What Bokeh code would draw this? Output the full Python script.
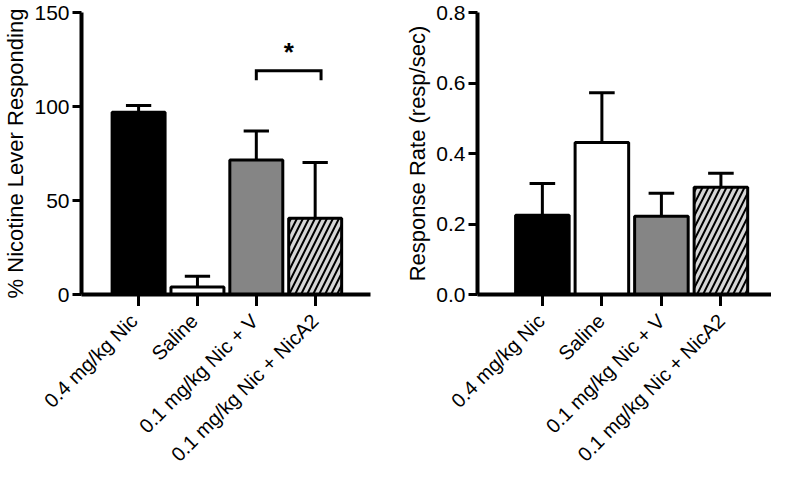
from bokeh.plotting import figure
from bokeh.models import FixedTicker, ColumnDataSource, Range1d
from bokeh.layouts import row, column
from bokeh.embed import file_html
from bokeh.resources import INLINE
from bokeh.core.properties import value
import math

categories = ["0.4 mg/kg Nic", "Saline", "0.1 mg/kg Nic + V", "0.1 mg/kg Nic + NicA2"]
pct_mean = [97, 4, 71.5, 40.5]
pct_sem = [3.5, 5.7, 15.5, 29.7]
rate_mean = [0.225, 0.431, 0.222, 0.304]
rate_sem = [0.09, 0.141, 0.065, 0.04]

pct_ticks = [0, 50, 100, 150]
pct_tick_labels = ["0", "50", "100", "150"]
rate_ticks = [0, 0.2, 0.4, 0.6, 0.8]
rate_tick_labels = ["0.0", "0.2", "0.4", "0.6", "0.8"]

bar_colors = ["#000000", "#ffffff", "#858585", "#d6d6d6"]
bar_hatch = [" ", " ", " ", "/"]

# significance bracket between groups 3 and 4
sig_x = [3, 4.1]
sig_y = 119
sig_drop = 114
sig_star_y = 129
sig_label = "*"

FONT = "Liberation Sans"
CAP = 0.43
TOTAL_H = 468
TOP_H = 306          # height of the bar-chart part
LAB_H = TOTAL_H - TOP_H  # strip holding the rotated category labels
TOP_B = 12
BOT_B = 12
TICK_OUT = 12
LABEL_GAP = 11       # px below the strip top where label centre line ends


def make(means, sems, ticks, tick_labels, ylabel, xr, yr, width, bl, br):
    xs = list(range(1, len(categories) + 1))
    p = figure(width=width, height=TOP_H, x_range=Range1d(*xr), y_range=Range1d(*yr),
               output_backend="svg", toolbar_location=None, tools="",
               min_border_top=TOP_B, min_border_right=br, min_border_left=bl,
               min_border_bottom=BOT_B)
    p.outline_line_color = None
    p.grid.visible = False
    upper = [m + s for m, s in zip(means, sems)]
    src = ColumnDataSource(dict(x=xs, top=means, upper=upper, color=bar_colors,
                                hatch=bar_hatch,
                                cl=[x - CAP / 2 for x in xs], cr=[x + CAP / 2 for x in xs]))
    p.vbar(x="x", top="top", bottom=0, width=0.9, fill_color="color", line_color="black",
           line_width=3, hatch_pattern="hatch", hatch_color="black", hatch_weight=2,
           hatch_scale=12, source=src)
    p.segment(x0="x", y0="top", x1="x", y1="upper", line_width=3, line_color="black", source=src)
    p.segment(x0="cl", y0="upper", x1="cr", y1="upper", line_width=3, line_color="black", source=src)

    p.xaxis.ticker = FixedTicker(ticks=xs)
    p.xaxis.major_label_overrides = {x: "" for x in xs}
    p.yaxis.ticker = FixedTicker(ticks=ticks)
    p.yaxis.major_label_overrides = {t: l for t, l in zip(ticks, tick_labels)}
    p.yaxis.axis_label = ylabel
    for ax in (p.xaxis[0], p.yaxis[0]):
        ax.axis_line_width = 4
        ax.axis_line_color = "black"
        ax.major_tick_line_width = 3
        ax.major_tick_line_color = "black"
        ax.major_tick_in = 0
        ax.minor_tick_in = 0
        ax.minor_tick_out = 0
        ax.major_label_text_font = FONT
        ax.major_label_text_font_size = "21px"
        ax.major_label_text_color = "black"
        ax.axis_label_text_font = FONT
        ax.axis_label_text_font_size = "22px"
        ax.axis_label_text_font_style = "normal"
        ax.axis_label_text_color = "black"
    p.xaxis.major_tick_out = TICK_OUT
    p.xaxis.major_label_standoff = 0
    p.xaxis.axis_label_standoff = 0
    p.xaxis.major_label_text_font_size = "1px"
    p.yaxis.major_tick_out = 9
    p.yaxis.major_label_standoff = 3
    p.yaxis.axis_label_standoff = 3

    # strip below with the category labels, sharing the same x scale
    fw = width - bl - br
    dpp = (xr[1] - xr[0]) / fw
    lab = figure(width=width, height=LAB_H,
                 x_range=Range1d(xr[0] - bl * dpp, xr[1] + br * dpp),
                 y_range=Range1d(-LAB_H, 0), x_axis_type=None, y_axis_type=None,
                 output_backend="svg", toolbar_location=None, tools="", min_border=0)
    lab.outline_line_color = None
    lab.grid.visible = False
    lsrc = ColumnDataSource(dict(x=xs, y=[-LABEL_GAP] * len(xs), name=categories))
    lab.text(x="x", y="y", text="name", source=lsrc, angle=math.pi / 4, x_offset=1,
             text_align="right", text_baseline="middle", text_font=value(FONT),
             text_font_size="20px", text_color="black")
    return p, lab


p1, l1 = make(pct_mean, pct_sem, pct_ticks, pct_tick_labels, "% Nicotine Lever Responding",
              (0.03, 4.94), (0, 150), 402, 74, 32)
p1.line(x=[sig_x[0], sig_x[0], sig_x[1], sig_x[1]], y=[sig_drop, sig_y, sig_y, sig_drop],
        line_width=3, line_color="black", line_join="miter")
p1.text(x=[sum(sig_x) / 2], y=[sig_star_y], text=[sig_label], text_font=value(FONT),
        text_font_size="26px", text_font_style="bold", text_align="center",
        text_baseline="middle", text_color="black")

p2, l2 = make(rate_mean, rate_sem, rate_ticks, rate_tick_labels, "Response Rate (resp/sec)",
              (-0.09, 4.85), (0, 0.8), 369, 72, 0)

layout = column(row(p1, p2), row(l1, l2))
open("out.html", "w").write(file_html(layout, INLINE))
